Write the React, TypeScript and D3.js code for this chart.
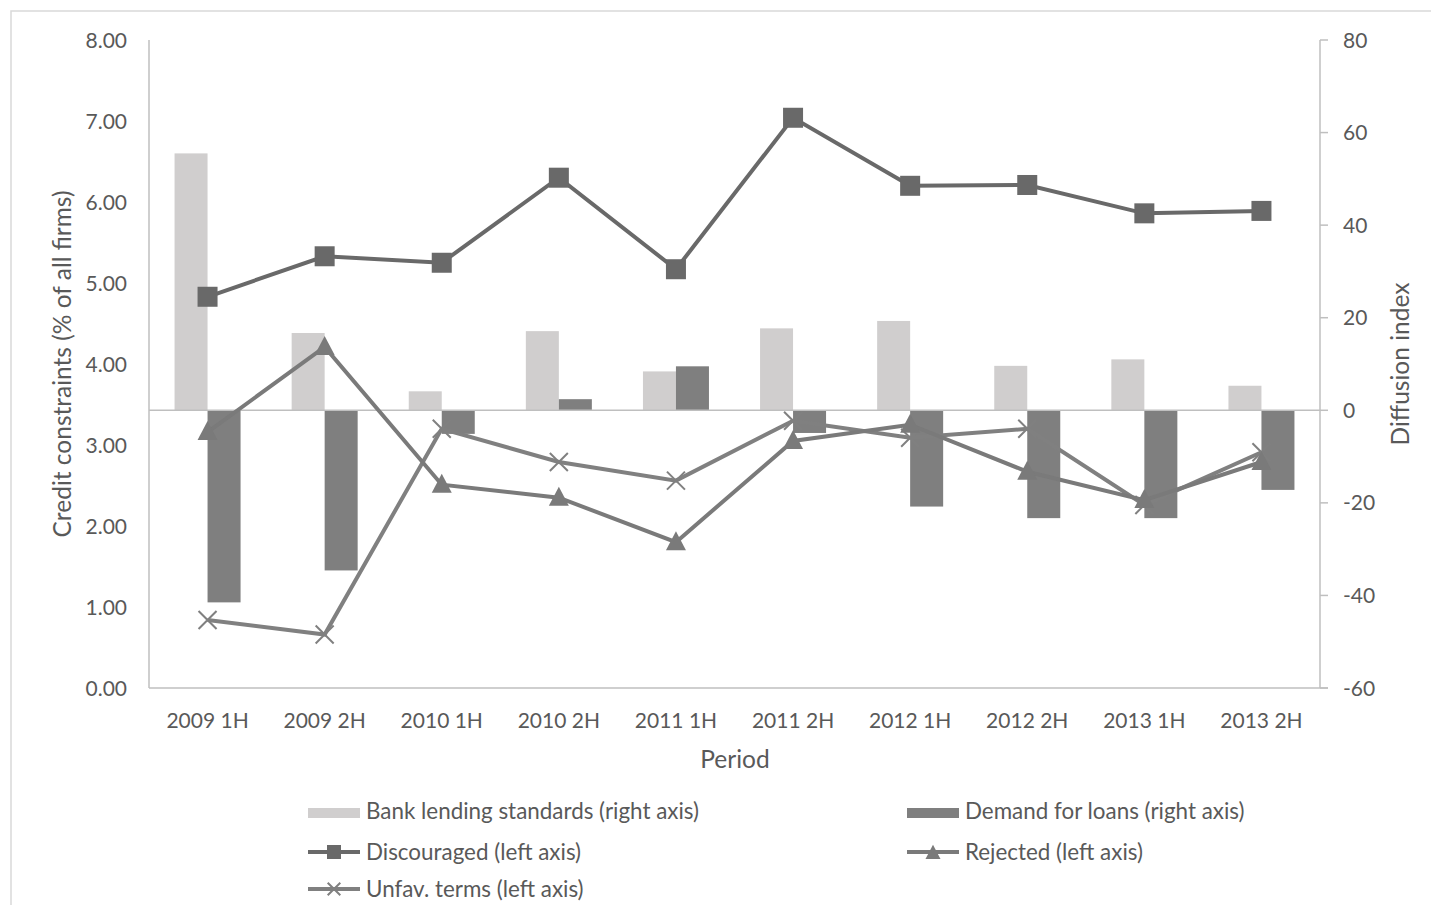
import React from "react";
import * as d3 from "d3";

const categories = ["2009 1H", "2009 2H", "2010 1H", "2010 2H", "2011 1H", "2011 2H", "2012 1H", "2012 2H", "2013 1H", "2013 2H"];
const bankLending = [55.5, 16.7, 4.1, 17.1, 8.4, 17.7, 19.3, 9.6, 11.0, 5.3];
const demandLoans = [-41.5, -34.6, -5.1, 2.4, 9.5, -4.9, -20.8, -23.3, -23.3, -17.2];
const discouraged = [4.83, 5.33, 5.25, 6.30, 5.17, 7.04, 6.20, 6.21, 5.86, 5.89];
const rejected = [3.16, 4.21, 2.51, 2.35, 1.80, 3.05, 3.25, 2.67, 2.32, 2.79];
const unfavTerms = [0.84, 0.66, 3.20, 2.79, 2.56, 3.30, 3.09, 3.20, 2.26, 2.91];
const leftTicks = [0, 1, 2, 3, 4, 5, 6, 7, 8];
const rightTicks = [-60, -40, -20, 0, 20, 40, 60, 80];

const FONT = "Lato, 'Open Sans', sans-serif";
const TXT = "#595959";
const AXIS = "#bfbfbf";

export default function App() {
  const L = 149, R = 1320, T = 40, B = 688;
  const x = d3.scaleBand<string>().domain(categories).range([L, R]).paddingInner(0).paddingOuter(0);
  const sub = d3.scaleBand<string>().domain(["bank", "demand"]).range([0, x.bandwidth()]).paddingInner(0).paddingOuter(0.774);
  const yL = d3.scaleLinear().domain([0, 8]).range([B, T]);
  const yR = d3.scaleLinear().domain([-60, 80]).range([B, T]);
  const cx = (c: string) => (x(c) as number) + x.bandwidth() / 2;

  const line = (vals: number[]) =>
    d3.line<number>().x((_, i) => cx(categories[i])).y((v) => yL(v))(vals) as string;

  const square = (px: number, py: number, key: string, color: string) => (
    <rect key={key} x={px - 10} y={py - 10} width={20} height={20} fill={color} />
  );
  const tri = (px: number, py: number, key: string, color: string, s = 1) => (
    <path key={key} d={`M${px},${py - 11 * s} L${px + 10 * s},${py + 8 * s} L${px - 10 * s},${py + 8 * s} Z`} fill={color} />
  );
  const cross = (px: number, py: number, key: string, color: string, s = 1) => (
    <path key={key} d={`M${px - 9 * s},${py - 9 * s} L${px + 9 * s},${py + 9 * s} M${px + 9 * s},${py - 9 * s} L${px - 9 * s},${py + 9 * s}`} stroke={color} strokeWidth={2} fill="none" />
  );

  const cDisc = "#696969";
  const cRej = "#7a7a7a";
  const cUnf = "#808080";
  const LF = 22.4;
  const TF = 24.5;

  return (
    <svg width={1431} height={905} style={{ position: "absolute", left: 0, top: 0, background: "#fff" }} fontFamily={FONT}>
      <rect x={11} y={11} width={1460} height={1000} fill="#fff" stroke="#d9d9d9" strokeWidth={1.5} />

      {/* bars */}
      {categories.map((c, i) => {
        const bx = (x(c) as number) + (sub("bank") as number);
        const dx = (x(c) as number) + (sub("demand") as number);
        const b = bankLending[i], d = demandLoans[i];
        return (
          <g key={c}>
            <rect x={bx} y={Math.min(yR(b), yR(0))} width={sub.bandwidth()} height={Math.abs(yR(b) - yR(0))} fill="#d0cece" />
            <rect x={dx} y={Math.min(yR(d), yR(0))} width={sub.bandwidth()} height={Math.abs(yR(d) - yR(0))} fill="#7f7f7f" />
          </g>
        );
      })}

      {/* axes */}
      <line x1={L} x2={L} y1={T} y2={B} stroke={AXIS} strokeWidth={1.5} />
      <line x1={L} x2={R + 8} y1={B} y2={B} stroke={AXIS} strokeWidth={1.5} />
      <line x1={L} x2={R} y1={yR(0)} y2={yR(0)} stroke={AXIS} strokeWidth={1.5} />
      <line x1={R} x2={R} y1={T} y2={B} stroke={AXIS} strokeWidth={1.5} />
      {rightTicks.map((t) => (
        <g key={t}>
          <line x1={R} x2={R + 8} y1={yR(t)} y2={yR(t)} stroke={AXIS} strokeWidth={1.5} />
          <text x={1343} y={yR(t)} dy="0.36em" fontSize={21} fill={TXT}>{t}</text>
        </g>
      ))}
      {leftTicks.map((t) => (
        <text key={t} x={127} y={yL(t)} dy="0.36em" textAnchor="end" fontSize={21} fill={TXT}>{t.toFixed(2)}</text>
      ))}
      {categories.map((c) => (
        <text key={c} x={cx(c)} y={728} textAnchor="middle" fontSize={21} fill={TXT}>{c}</text>
      ))}
      <text x={735} y={768} textAnchor="middle" fontSize={TF} fill={TXT}>Period</text>
      <text transform={`translate(71,${(T + B) / 2}) rotate(-90)`} textAnchor="middle" fontSize={TF} fill={TXT}>Credit constraints (% of all firms)</text>
      <text transform={`translate(1409,${(T + B) / 2}) rotate(-90)`} textAnchor="middle" fontSize={TF} fill={TXT}>Diffusion index</text>

      {/* lines */}
      <path d={line(unfavTerms)} fill="none" stroke={cUnf} strokeWidth={4} />
      {unfavTerms.map((v, i) => cross(cx(categories[i]), yL(v), "u" + i, cUnf))}
      <path d={line(rejected)} fill="none" stroke={cRej} strokeWidth={4} />
      {rejected.map((v, i) => tri(cx(categories[i]), yL(v), "r" + i, cRej))}
      <path d={line(discouraged)} fill="none" stroke={cDisc} strokeWidth={4} />
      {discouraged.map((v, i) => square(cx(categories[i]), yL(v), "d" + i, cDisc))}

      {/* legend */}
      <rect x={308} y={808} width={52} height={10} fill="#d0cece" />
      <text x={366} y={811} dy="0.36em" fontSize={LF} fill={TXT}>Bank lending standards (right axis)</text>
      <rect x={907} y={808} width={52} height={10} fill="#7f7f7f" />
      <text x={965} y={811} dy="0.36em" fontSize={LF} fill={TXT}>Demand for loans (right axis)</text>

      <line x1={308} x2={360} y1={852} y2={852} stroke={cDisc} strokeWidth={4} />
      <rect x={327} y={845} width={14} height={14} fill={cDisc} />
      <text x={366} y={852} dy="0.36em" fontSize={LF} fill={TXT}>Discouraged (left axis)</text>
      <line x1={907} x2={959} y1={852} y2={852} stroke={cRej} strokeWidth={4} />
      {tri(933, 853, "lt", cRej, 0.75)}
      <text x={965} y={852} dy="0.36em" fontSize={LF} fill={TXT}>Rejected (left axis)</text>

      <line x1={308} x2={360} y1={889} y2={889} stroke={cUnf} strokeWidth={4} />
      {cross(334, 889, "lx", cUnf, 0.7)}
      <text x={366} y={889} dy="0.36em" fontSize={LF} fill={TXT}>Unfav. terms (left axis)</text>
    </svg>
  );
}
